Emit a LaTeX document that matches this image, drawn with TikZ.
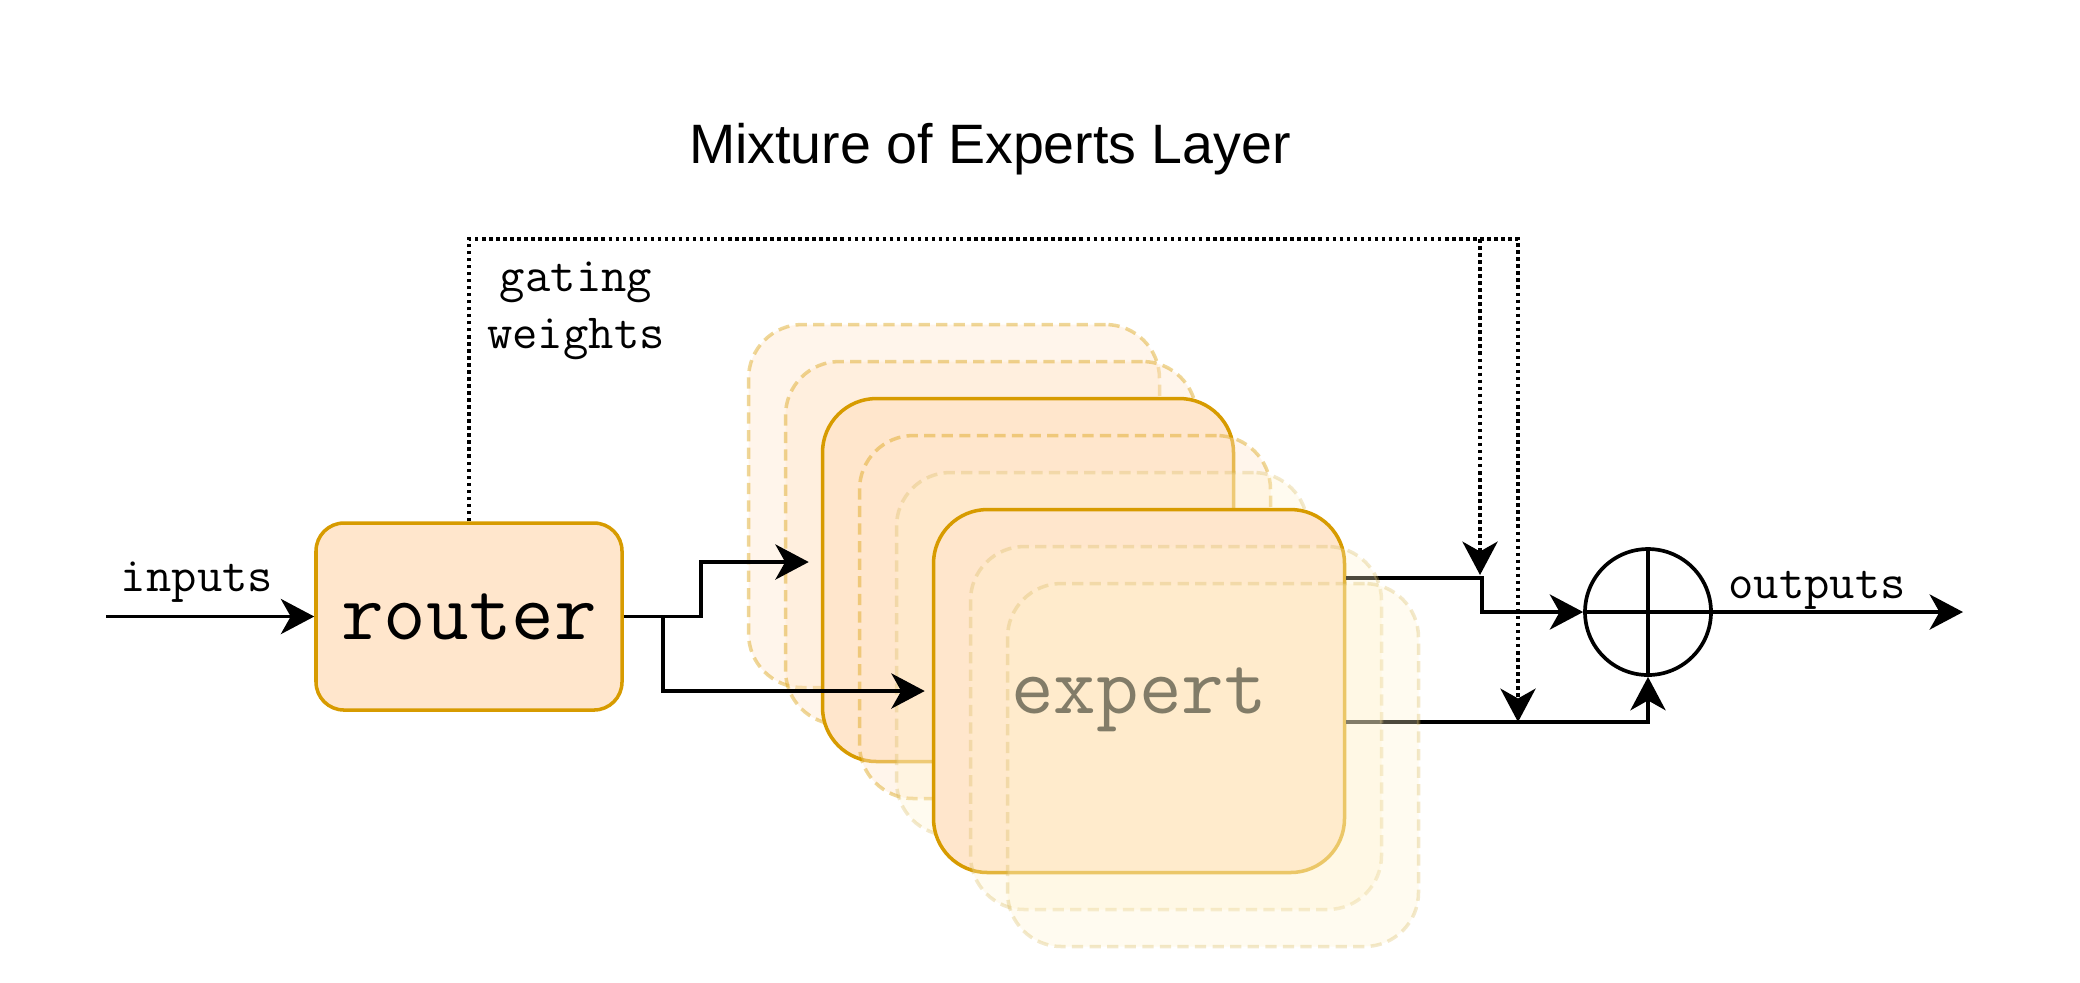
\documentclass[tikz,border=0pt]{standalone}
\usepackage{fontspec}
\newfontfamily\headfnt{Liberation Sans}
\usetikzlibrary{positioning,shapes,arrows.meta}
\definecolor{peach}{HTML}{FFE6CC}
\definecolor{amber}{HTML}{D79B00}
\definecolor{cream}{HTML}{FFF2CC}
\definecolor{ochre}{HTML}{D6B656}

\begin{document}
\begin{tikzpicture}[x=0.1mm, y=-0.1mm,
  >={Stealth[length=9.5pt,width=10pt,inset=2.8pt]},
  box/.style={draw=amber, fill=peach, line width=1pt, inner sep=0pt, text depth=0pt},
  expbox/.style={box, rounded corners=5.4mm, minimum width=41.1mm, minimum height=36.3mm},
  ghost/.style={expbox, dash pattern=on 3.2pt off 1.8pt, opacity=0.4},
  ghosty/.style={ghost, draw=ochre, fill=cream, opacity=0.3},
  bigtxt/.style={font=\ttfamily\fontsize{23.5}{28}\selectfont},
  wire/.style={line width=1.05pt},
  gate/.style={wire, dash pattern=on 1pt off 1pt},
  lbl/.style={font=\ttfamily\fontsize{14}{16.2}\selectfont, anchor=base}]

\useasboundingbox (0,0) rectangle (2080,982);

\node[font=\headfnt\fontsize{15.8}{19}\selectfont, anchor=base] (title) at (990,163) {Mixture of Experts Layer};

% stack of experts, back to front
\node[ghost] (bk1) at (954,506) {};
\node[ghost] (bk2) at (991,543) {};
\node[expbox] (ex1) at (1028,580) {};
\node[ghost] (bk3) at (1065,617) {};
\node[ghosty] (bk4) at (1102,654) {};
\node[expbox, bigtxt] (ex2) at (1139,691) {expert};

\node[box, bigtxt, rounded corners=2.8mm, minimum width=30.6mm, minimum height=18.7mm] (router) at (469,616.5) {router};

\node[draw, circle, line width=1.05pt, minimum size=12.6mm, inner sep=0pt] (sum) at (1648,612) {};
\draw[wire] (sum.north) -- (sum.south) (sum.west) -- (sum.east);

\coordinate (in) at (106,616.5);
\coordinate (out) at (1963,612);
\coordinate (hi) at ([yshift=11.3mm]ex2.east);
\coordinate (lo) at ([yshift=-3.1mm]ex2.east);
\coordinate (gk) at (1480,239);
\coordinate (gt) at (1518,239);

\draw[wire,->] (in) -- (router.west);
\draw[wire,->,shorten >=1.2mm] (router.east) -- ++(77,0) |- ([yshift=1.8mm]ex1.west);
\draw[wire,->,shorten >=0.7mm] (router.east) -- ++(39,0) |- (ex2.west);
\draw[wire,->] (hi) -- ++(136,0) |- (sum.west);
\draw[wire,->] (lo) -| (sum.south);
\draw[wire,->] (sum.east) -- (out);

% gating weights
\draw[gate,->] (router.north) |- (gt) -- (gt |- lo);
\draw[gate,->,shorten >=0.3mm] (gk) -- (gk |- hi);

% front copies, over the wires
\node[ghosty] (fr1) at (1176,728) {};
\node[ghosty] (fr2) at (1213,765) {};

\node[lbl] (lin) at (197,591) {inputs};
\node[lbl] (lout) at (1817,598) {outputs};
\node[lbl, align=center] (lgate) at (576,348) {gating\\weights};
\end{tikzpicture}
\end{document}
